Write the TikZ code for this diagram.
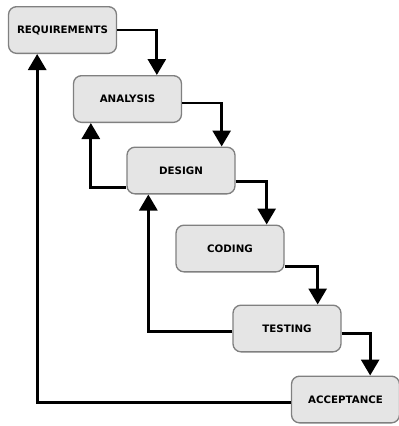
\documentclass[tikz,border=0pt]{standalone}
\usepackage{fontspec}
\setsansfont{DejaVu Sans}
\usetikzlibrary{arrows.meta}

\tikzset{
  phase/.style={draw=black!50, line width=1pt, fill=black!10, rounded corners=6pt,
    minimum width=81pt, minimum height=35pt, inner sep=0pt,
    font=\sffamily\bfseries\fontsize{7.7}{9}\selectfont},
  flow/.style={line width=2.2pt, -{Triangle[width=13.5pt,length=12pt]}}
}

\begin{document}
\begin{tikzpicture}[x=0.75pt,y=-0.75pt]
  \useasboundingbox (0,0) rectangle (399,426);

  \node[phase] (req) at (62.5,30) {REQUIREMENTS};
  \node[phase] (ana) at (127.5,99) {ANALYSIS};
  \node[phase] (des) at (181,170.5) {DESIGN};
  \node[phase] (cod) at (230,248.5) {CODING};
  \node[phase] (tes) at (287,328.5) {TESTING};
  \node[phase] (acc) at (345.5,399.5) {ACCEPTANCE};

  % going down
  \draw[flow] (req.east) -| ([xshift=22pt]ana.north);
  \draw[flow] ([yshift=-3pt]ana.east) -| ([xshift=30.5pt]des.north);
  \draw[flow] ([yshift=-8.5pt]des.east) -| ([xshift=27.5pt]cod.north);
  \draw[flow] ([yshift=-13.5pt]cod.east) -| ([xshift=23pt]tes.north);
  \draw[flow] ([yshift=-3.5pt]tes.east) -| ([xshift=18.5pt]acc.north);

  % going back
  \draw[flow] ([yshift=-2.5pt]acc.west) -| ([xshift=-19pt]req.south);
  \draw[flow] ([yshift=-2pt]tes.west) -| ([xshift=-24.5pt]des.south);
  \draw[flow] ([yshift=-12.5pt]des.west) -| ([xshift=-27.5pt]ana.south);
\end{tikzpicture}
\end{document}
